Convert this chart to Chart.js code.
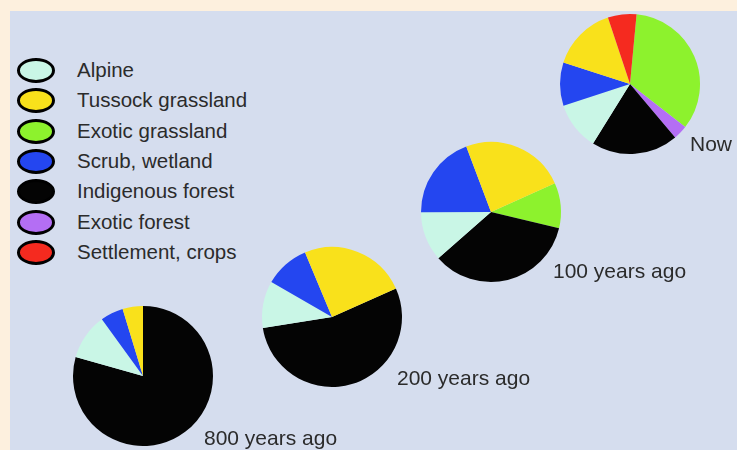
<!DOCTYPE html>
<html>
<head>
<meta charset="utf-8">
<script src="https://cdn.jsdelivr.net/npm/chart.js@4/dist/chart.umd.min.js"></script>
<style>
  body { margin: 0; background: #fdf0de; }
  #wrap { position: relative; width: 737px; height: 450px; overflow: hidden; background: #fdf0de; }
  #panel { position: absolute; left: 10px; top: 11px; width: 727px; height: 439px; background: #d5ddee; }
  .pie { position: absolute; width: 144px; height: 144px; }
  .txt { position: absolute; font-family: "Liberation Sans", Arial, sans-serif; font-size: 20.5px; color: #2b2b2b; white-space: nowrap; line-height: 20px; }
  .big { font-size: 21px; }
  .key { position: absolute; width: 32px; height: 19px; border: 3px solid #000; border-radius: 50%; }
</style>
</head>
<body>
<div id="wrap">
  <div id="panel"></div>
</div>
<script>
// legend categories (legend order) and their colours
var categories = ['Alpine', 'Tussock grassland', 'Exotic grassland', 'Scrub, wetland', 'Indigenous forest', 'Exotic forest', 'Settlement, crops'];
var colours = ['#c9f6e6', '#f9e11b', '#8df22d', '#2446f0', '#040404', '#b46ef4', '#f52a1f'];

// share of land cover (%) per period, in legend order
var periods = ['800 years ago', '200 years ago', '100 years ago', 'Now'];
var cover800 = [10.6, 4.7, 0, 5.3, 79.4, 0, 0];
var cover200 = [10.8, 24.6, 0, 10.4, 54.2, 0, 0];
var cover100 = [11.4, 24.0, 10.5, 19.3, 34.8, 0, 0];
var coverNow = [11.1, 14.9, 34.0, 10.0, 20.0, 3.3, 6.6];

// order the slices run clockwise in each pie
var sliceOrder = [2, 5, 4, 0, 3, 1, 6];

var wrap = document.getElementById('wrap');

// legend
categories.forEach(function (name, i) {
    var y = 70 + i * 30.3;
    var k = document.createElement('div');
    k.className = 'key';
    k.style.left = '17px';
    k.style.top = (y - 12) + 'px';
    k.style.background = colours[i];
    wrap.appendChild(k);
    var t = document.createElement('div');
    t.className = 'txt';
    t.style.left = '77px';
    t.style.top = (y - 10) + 'px';
    t.textContent = name;
    wrap.appendChild(t);
});

var pies = [
    {values: cover800, cx: 143, cy: 376, rot: 0,    lx: 204, ly: 428},
    {values: cover200, cx: 332, cy: 317, rot: 65.9, lx: 397, ly: 368},
    {values: cover100, cx: 491, cy: 212, rot: 65.7, lx: 553, ly: 261},
    {values: coverNow, cx: 630, cy: 84,  rot: 5.4,  lx: 690, ly: 134}
];

pies.forEach(function (p, n) {
    var box = document.createElement('div');
    box.className = 'pie';
    box.style.left = (p.cx - 72) + 'px';
    box.style.top = (p.cy - 72) + 'px';
    var cv = document.createElement('canvas');
    box.appendChild(cv);
    wrap.appendChild(box);

    new Chart(cv.getContext('2d'), {
        type: 'pie',
        data: {
            labels: sliceOrder.map(function (i) { return categories[i]; }),
            datasets: [{
                data: sliceOrder.map(function (i) { return p.values[i]; }),
                backgroundColor: sliceOrder.map(function (i) { return colours[i]; }),
                borderWidth: 0
            }]
        },
        options: {
            responsive: true,
            maintainAspectRatio: false,
            animation: false,
            rotation: p.rot,
            layout: { padding: 2 },
            plugins: {
                legend: { display: false },
                tooltip: { enabled: false }
            }
        }
    });

    var lab = document.createElement('div');
    lab.className = 'txt big';
    lab.style.left = p.lx + 'px';
    lab.style.top = p.ly + 'px';
    lab.textContent = periods[n];
    wrap.appendChild(lab);
});
</script>
</body>
</html>
